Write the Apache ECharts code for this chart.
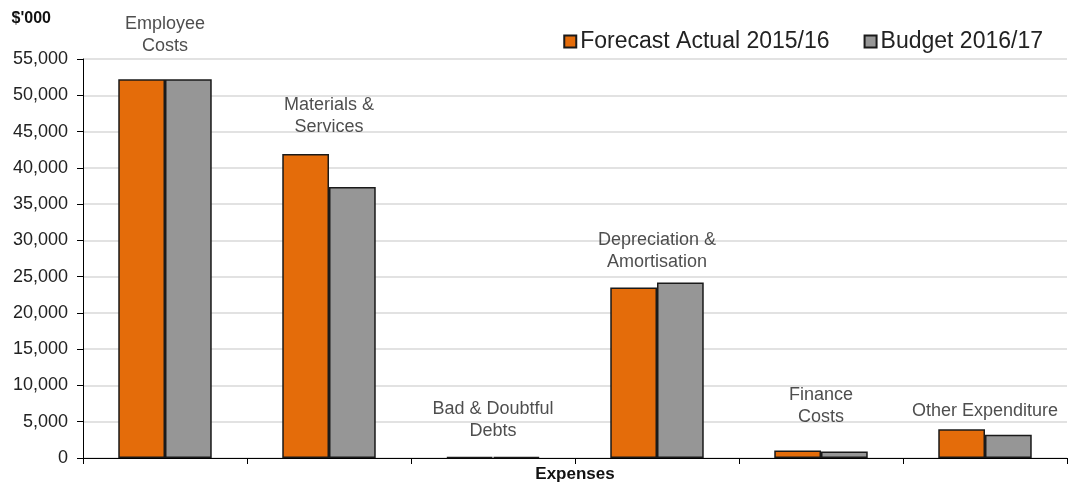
<!DOCTYPE html>
<html>
<head>
<meta charset="utf-8">
<script src="https://cdn.jsdelivr.net/npm/echarts@6/dist/echarts.min.js"></script>
<style>
html,body{margin:0;padding:0;background:#fff;}
#chart{width:1071px;height:485px;}
</style>
</head>
<body>
<div id="chart"></div>
<script>
// ---- data ----
const categories = ['Employee\nCosts', 'Materials &\nServices', 'Bad & Doubtful\nDebts', 'Depreciation &\nAmortisation', 'Finance\nCosts', 'Other Expenditure'];
const forecast2015 = [52200, 41900, 150, 23500, 1050, 3950];
const budget2016 = [52200, 37350, 150, 24200, 900, 3200];
const seriesNames = ['Forecast Actual 2015/16', 'Budget 2016/17'];
const yTicks = [0, 5000, 10000, 15000, 20000, 25000, 30000, 35000, 40000, 45000, 50000, 55000];

// ---- layout (not data) ----
const labelGap = [22, 16, 15, 9, 22, 7];
const FONT = '"Liberation Sans", Arial, sans-serif';

const labelPoints = categories.map((c, i) => ({
  value: Math.max(forecast2015[i], budget2016[i]),
  label: { distance: labelGap[i], formatter: c }
}));

const chart = echarts.init(document.getElementById('chart'));
chart.setOption({
  animation: false,
  textStyle: { fontFamily: FONT },
  grid: { left: 83, right: 4, top: 59, bottom: 27, outerBoundsMode: 'none', containLabel: false },
  legend: {
    data: seriesNames,
    top: 25, right: 23,
    itemWidth: 12, itemHeight: 12, itemGap: 34,
    icon: 'rect',
    textStyle: { fontSize: 23, color: '#222', fontFamily: FONT, padding: [0,0,0,-1] }
  },
  xAxis: {
    type: 'category',
    data: categories,
    name: 'Expenses',
    nameLocation: 'middle',
    nameGap: 8,
    nameTextStyle: { fontSize: 17, fontWeight: 'bold', color: '#111', fontFamily: FONT, verticalAlign: 'top' },
    axisLine: { lineStyle: { color: '#000', width: 1 } },
    axisTick: { show: true, length: 6, lineStyle: { color: '#000' } },
    axisLabel: { show: false }
  },
  yAxis: {
    type: 'value',
    min: yTicks[0], max: yTicks[yTicks.length - 1], interval: yTicks[1] - yTicks[0],
    name: "$'000",
    nameLocation: 'end',
    nameGap: 32,
    nameTextStyle: { fontSize: 16, fontWeight: 'bold', color: '#111', align: 'right', padding: [0, 32, 0, 0], fontFamily: FONT },
    axisLine: { show: true, lineStyle: { color: '#000', width: 1 } },
    axisTick: { show: true, length: 6, lineStyle: { color: '#000' } },
    axisLabel: { fontSize: 18, color: '#222', margin: 15, fontFamily: FONT,
      formatter: v => v.toLocaleString('en-US') },
    splitLine: { lineStyle: { color: '#d9d9d9', width: 1.5 } }
  },
  series: [
    {
      name: seriesNames[0], type: 'bar', data: forecast2015,
      barGap: '0%', barCategoryGap: '43%',
      itemStyle: { color: '#E46C0A', borderColor: '#1a1a1a', borderWidth: 1.5 }
    },
    {
      name: seriesNames[1], type: 'bar', data: budget2016,
      itemStyle: { color: '#969696', borderColor: '#1a1a1a', borderWidth: 1.5 }
    },
    {
      name: 'labels', type: 'scatter', data: labelPoints,
      symbolSize: 0, silent: true,
      label: { show: true, position: 'top', fontSize: 18, color: '#222', lineHeight: 22, align: 'center', fontFamily: FONT }
    }
  ]
});
</script>
</body>
</html>
